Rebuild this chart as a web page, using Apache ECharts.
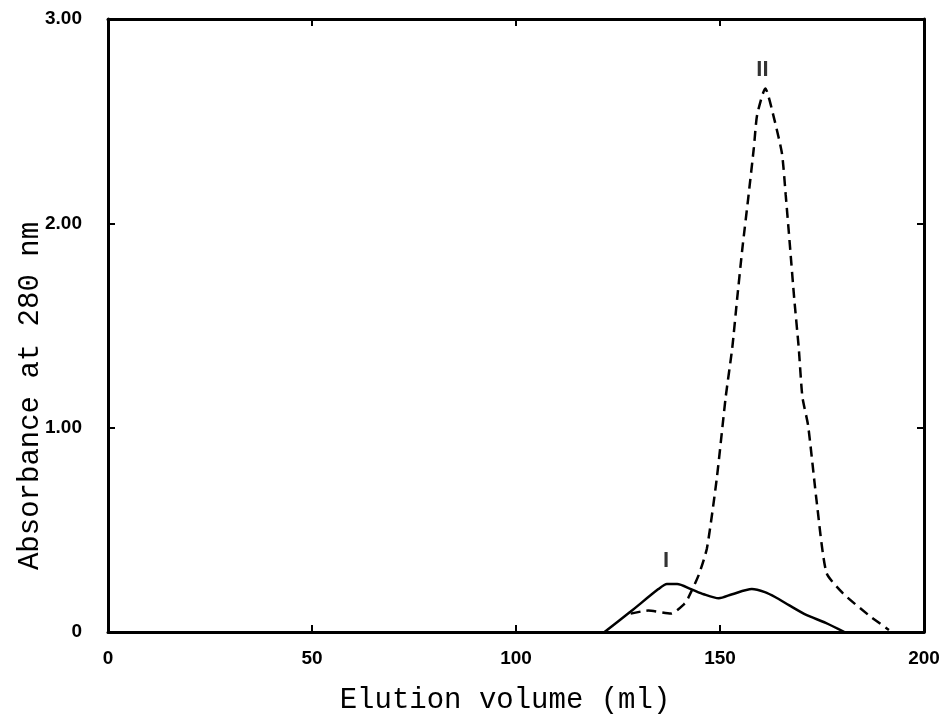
<!DOCTYPE html>
<html>
<head>
<meta charset="utf-8">
<title>Elution profile</title>
<script src="https://cdn.jsdelivr.net/npm/echarts@6/dist/echarts.min.js"></script>
<style>
  html, body { margin: 0; padding: 0; background: #fff; }
  #chart { width: 945px; height: 721px; }
</style>
</head>
<body>
<div id="chart"></div>
<script>
// elution volume (ml) / absorbance pairs
var solidCurve = [
  [121.7, 0], [128.1, 0.10], [134.9, 0.21], [137, 0.235], [139.5, 0.235],
  [142.9, 0.21], [146, 0.185], [149.7, 0.165], [153, 0.185], [157.8, 0.21],
  [161, 0.195], [163.6, 0.17], [167, 0.13], [171, 0.085], [175.9, 0.045], [180.5, 0]
]
var dashedCurve = [
  [128.1, 0.09], [132.4, 0.105], [138, 0.09], [141.4, 0.14], [142.2, 0.166],
  [144.8, 0.28], [146.8, 0.41], [149.2, 0.75], [151.4, 1.15], [153.0, 1.39],
  [154.2, 1.63], [155.5, 1.88], [156.9, 2.12], [158.3, 2.37], [159.1, 2.53],
  [161.1, 2.66], [163.3, 2.51], [165.2, 2.34], [166.1, 2.14], [167.1, 1.90],
  [168.2, 1.63], [169.3, 1.39], [170.2, 1.15], [171.6, 1.01], [173.8, 0.62],
  [176.1, 0.29], [180.1, 0.19], [186.6, 0.08], [191.4, 0.01]
]
var peakNames = ['I', 'II']
var peakSpots = [[136.8, 0.35], [160.4, 2.75]]
var yTickLabels = ['0', '1.00', '2.00', '3.00']

var tickFont = {
  color: '#000',
  fontFamily: 'Liberation Sans, Arial, sans-serif',
  fontWeight: 'bold',
  fontSize: 19
}
var box = { onZero: false, lineStyle: { color: '#000', width: 3 } }
var ticks = { inside: true, length: 7, lineStyle: { color: '#000', width: 2 } }
var titleFont = '29px "Liberation Mono", monospace'

var myChart = echarts.init(document.getElementById('chart'))

var option = {
  animation: false,
  backgroundColor: '#fff',
  grid: { left: 108, right: 21, top: 19, bottom: 89, outerBoundsMode: 'none' },
  graphic: [
    {
      type: 'text',
      x: 505,
      y: 700,
      style: { text: 'Elution volume (ml)', font: titleFont, fill: '#000', align: 'center', verticalAlign: 'middle' }
    },
    {
      type: 'text',
      x: 30,
      y: 396,
      rotation: Math.PI / 2,
      style: { text: 'Absorbance at 280 nm', font: titleFont, fill: '#000', align: 'center', verticalAlign: 'middle' }
    }
  ],
  xAxis: [
    {
      type: 'value',
      min: 0,
      max: 200,
      interval: 50,
      axisLine: box,
      axisTick: ticks,
      axisLabel: Object.assign({ margin: 17 }, tickFont),
      splitLine: { show: false }
    },
    {
      type: 'value',
      position: 'top',
      min: 0,
      max: 200,
      interval: 50,
      axisLine: box,
      axisTick: ticks,
      axisLabel: { show: false },
      splitLine: { show: false }
    }
  ],
  yAxis: [
    {
      type: 'value',
      min: 0,
      max: 3,
      interval: 1,
      axisLine: box,
      axisTick: ticks,
      axisLabel: Object.assign({
        margin: 26,
        formatter: function (v) { return yTickLabels[Math.round(v)] }
      }, tickFont),
      splitLine: { show: false }
    },
    {
      type: 'value',
      position: 'right',
      min: 0,
      max: 3,
      interval: 1,
      axisLine: box,
      axisTick: ticks,
      axisLabel: { show: false },
      splitLine: { show: false }
    }
  ],
  series: [
    {
      type: 'line',
      data: solidCurve,
      smooth: 0.25,
      showSymbol: false,
      lineStyle: { color: '#000', width: 2.5 }
    },
    {
      type: 'line',
      data: dashedCurve,
      smooth: 0.2,
      showSymbol: false,
      lineStyle: { color: '#000', width: 2.5, type: [10, 6] }
    },
    {
      type: 'scatter',
      symbolSize: 0,
      data: peakSpots.map(function (p, i) { return { name: peakNames[i], value: p } }),
      label: {
        show: true,
        position: 'inside',
        formatter: '{b}',
        color: '#000',
        fontFamily: 'Liberation Sans, sans-serif',
        fontWeight: 'bold',
        fontSize: 22
      }
    }
  ]
}

myChart.setOption(option)
</script>
</body>
</html>
